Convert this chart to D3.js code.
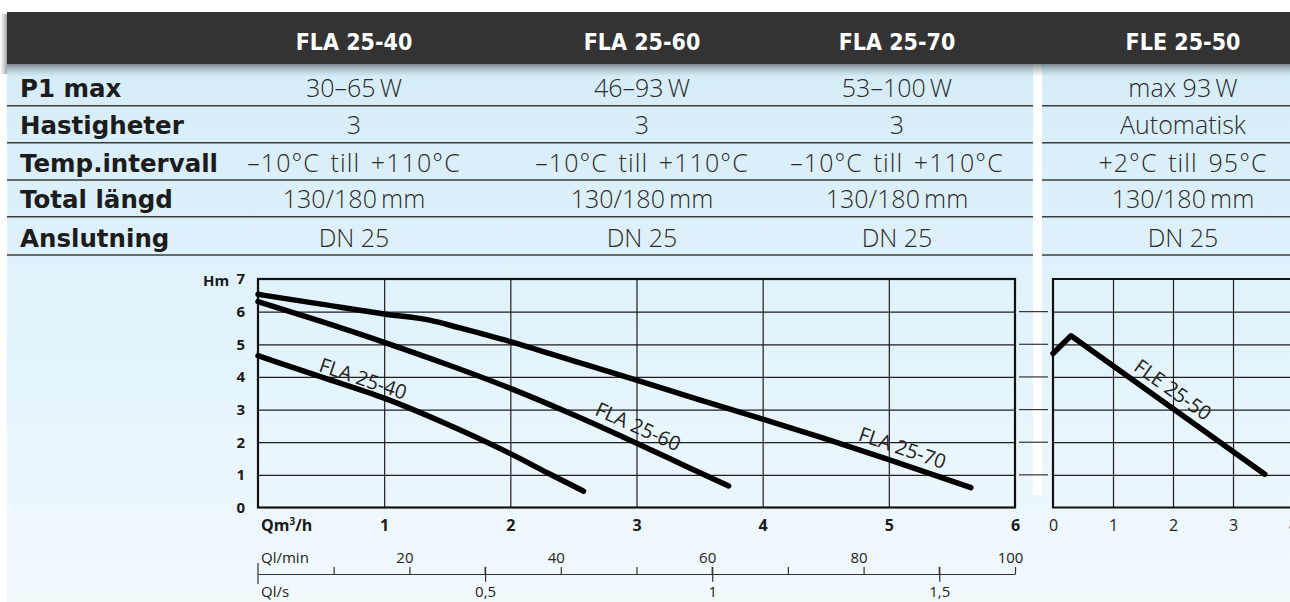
<!DOCTYPE html>
<html><head><meta charset="utf-8">
<script src="https://cdn.jsdelivr.net/npm/d3@7"></script>
<style>
body{margin:0;background:#fff;overflow:hidden}
text{font-family:'Open Sans',sans-serif}
</style>
</head><body><script>
// ---------- data ----------
const models = ["FLA 25-40", "FLA 25-60", "FLA 25-70", "FLE 25-50"];
const rowLabels = ["P1 max", "Hastigheter", "Temp.intervall", "Total längd", "Anslutning"];
const p1Max = ["30–65\u2009W", "46–93\u2009W", "53–100\u2009W", "max 93\u2009W"];
const speeds = ["3", "3", "3", "Automatisk"];
const tempRange = ["–10°C till +110°C", "–10°C till +110°C", "–10°C till +110°C", "+2°C till 95°C"];
const totalLength = ["130/180\u2009mm", "130/180\u2009mm", "130/180\u2009mm", "130/180\u2009mm"];
const connection = ["DN 25", "DN 25", "DN 25", "DN 25"];

const hTicks = [0, 1, 2, 3, 4, 5, 6, 7];
const qTicks = [1, 2, 3, 4, 5, 6];
const qTicksFle = [0, 1, 2, 3, 4];
const lminTicks = [10, 20, 30, 40, 50, 60, 70, 80, 90, 100];
const lminLabels = [20, 40, 60, 80, 100];
const lsTicks = [0.5, 1, 1.5];

// pump curves: flow Q (m3/h) -> head H (m)
const fla2540Q = [0, 0.5, 1, 1.5, 2, 2.3, 2.58];
const fla2540H = [4.65, 4.0, 3.35, 2.55, 1.65, 1.05, 0.5];
const fla2560Q = [0, 0.5, 1, 1.5, 2, 2.5, 3, 3.4, 3.73];
const fla2560H = [6.31, 5.70, 5.06, 4.38, 3.65, 2.84, 1.97, 1.25, 0.66];
const fla2570Q = [0, 0.5, 1, 1.36, 1.6, 2, 2.5, 3, 3.5, 4, 4.5, 5, 5.65];
const fla2570H = [6.53, 6.23, 5.93, 5.74, 5.5, 5.08, 4.49, 3.9, 3.3, 2.71, 2.1, 1.47, 0.61];
const fle2550Q = [0, 0.3, 3.53];
const fle2550H = [4.72, 5.26, 1.02];

// curve label anchor points (Q, H)
const curveLabelQ = [0.815, 2.99, 5.09, 1.93];
const curveLabelH = [3.74, 2.28, 1.62, 3.43];

// ---------- drawing ----------
const svg = d3.select("body").append("svg").attr("width", 1290).attr("height", 602);
const defs = svg.append("defs");
const bg = defs.append("linearGradient").attr("id", "bg").attr("x1", 0).attr("y1", 0).attr("x2", 0).attr("y2", 1);
bg.append("stop").attr("offset", "0%").attr("stop-color", "#d5edf9");
bg.append("stop").attr("offset", "100%").attr("stop-color", "#f1f9fd");
const sh = defs.append("linearGradient").attr("id", "sh").attr("x1", 0).attr("y1", 0).attr("x2", 0).attr("y2", 1);
sh.append("stop").attr("offset", "0%").attr("stop-color", "#5c6468").attr("stop-opacity", 0.75);
sh.append("stop").attr("offset", "100%").attr("stop-color", "#9fb4bf").attr("stop-opacity", 0);
const shL = defs.append("linearGradient").attr("id", "shL").attr("x1", 0).attr("y1", 0).attr("x2", 1).attr("y2", 0);
shL.append("stop").attr("offset", "0%").attr("stop-color", "#888").attr("stop-opacity", 0);
shL.append("stop").attr("offset", "100%").attr("stop-color", "#666").attr("stop-opacity", 0.6);

// background panels
svg.append("rect").attr("x", 7).attr("y", 64).attr("width", 1283).attr("height", 538).attr("fill", "url(#bg)");
svg.append("rect").attr("x", 1033).attr("y", 64).attr("width", 9).attr("height", 431).attr("fill", "#fff");
svg.append("rect").attr("x", 0).attr("y", 14).attr("width", 7).attr("height", 60).attr("fill", "url(#shL)");
svg.append("rect").attr("x", 7).attr("y", 64).attr("width", 1283).attr("height", 13).attr("fill", "url(#sh)");
svg.append("rect").attr("x", 7).attr("y", 12).attr("width", 1283).attr("height", 52).attr("fill", "#333333");

// table
const colX = [354, 642, 897, 1183];
svg.append("g").selectAll("text").data(models).join("text")
  .attr("x", (d, i) => colX[i]).attr("y", 50)
  .attr("text-anchor", "middle").attr("fill", "#fff")
  .style("font-family", "'DejaVu Sans Condensed','DejaVu Sans',sans-serif")
  .style("font-stretch", "condensed").style("font-weight", 700).style("font-size", "23px")
  .text(d => d);

const rowsData = [p1Max, speeds, tempRange, totalLength, connection];
const rowBottoms = [105.7, 142.7, 180, 216.7, 255];
const tbl = svg.append("g");
rowLabels.forEach((lab, r) => {
  const yb = rowBottoms[r];
  tbl.append("text").attr("x", 20).attr("y", yb - 8.5).attr("fill", "#1c1c1c")
    .style("font-family", "'DejaVu Sans',sans-serif")
    .style("font-weight", 700).style("font-size", "24.5px").text(lab);
  tbl.selectAll(null).data(rowsData[r]).join("text")
    .attr("x", (d, i) => colX[i]).attr("y", yb - 8.5).attr("text-anchor", "middle")
    .attr("fill", "#2a2a2a").style("font-weight", 300).style("font-size", "25px")
    .style("letter-spacing", r === 2 ? "1.1px" : null)
    .style("word-spacing", r === 2 ? "3px" : null)
    .text(d => d);
  tbl.append("line").attr("x1", 7).attr("x2", 1033).attr("y1", yb).attr("y2", yb)
    .attr("stroke", "#3c3c3c").attr("stroke-width", 1.5);
  tbl.append("line").attr("x1", 1042).attr("x2", 1290).attr("y1", yb).attr("y2", yb)
    .attr("stroke", "#3c3c3c").attr("stroke-width", 1.5);
});

// scales
const x = d3.scaleLinear().domain([0, 6]).range([258, 1015]);
const y = d3.scaleLinear().domain([0, 7]).range([507.5, 279]);
const xR = d3.scaleLinear().domain([0, 4]).range([1053, 1293]);
const xLmin = d3.scaleLinear().domain([0, 100]).range(x.range());
const xLs = d3.scaleLinear().domain([0, 100 / 60]).range(x.range());
const gridColor = "#1e1e1e";
const fInt = d3.format("d");

// left chart grid
const gL = svg.append("g");
gL.append("g").attr("transform", `translate(0,${y(0)})`)
  .call(d3.axisBottom(x).tickValues([1, 2, 3, 4, 5]).tickSize(-(y(0) - y(7))).tickFormat(""))
  .call(g => g.select(".domain").remove())
  .call(g => g.selectAll("line").attr("stroke", gridColor).attr("stroke-width", 1.2));
gL.append("g").attr("transform", `translate(${x(0)},0)`)
  .call(d3.axisLeft(y).tickValues([1, 2, 3, 4, 5, 6]).tickSize(-(x(6) - x(0))).tickFormat(""))
  .call(g => g.select(".domain").remove())
  .call(g => g.selectAll("line").attr("stroke", gridColor).attr("stroke-width", 1.2));
gL.append("rect").attr("x", x(0)).attr("y", y(7)).attr("width", x(6) - x(0)).attr("height", y(0) - y(7))
  .attr("fill", "none").attr("stroke", "#111").attr("stroke-width", 2.2);

// extension lines between panels
svg.append("g").selectAll("line").data([1, 2, 3, 4, 5, 6]).join("line")
  .attr("x1", 1019).attr("x2", 1048).attr("y1", d => y(d)).attr("y2", d => y(d))
  .attr("stroke", "#333").attr("stroke-width", 1.2);

// y labels
svg.append("g").attr("transform", `translate(${x(0)},0)`)
  .call(d3.axisLeft(y).tickValues(hTicks).tickSize(0).tickPadding(13).tickFormat(fInt))
  .call(g => g.select(".domain").remove())
  .call(g => g.selectAll("text").attr("fill", "#1a1a1a").style("font-family", "'Open Sans',sans-serif")
    .style("font-weight", 700).style("font-size", "15px"));
svg.append("text").attr("x", 203).attr("y", 285.7).attr("fill", "#1a1a1a")
  .style("font-weight", 700).style("font-size", "15px").text("Hm");

// x labels (m3/h)
svg.append("g").attr("transform", `translate(0,${y(0)})`)
  .call(d3.axisBottom(x).tickValues(qTicks).tickSize(0).tickPadding(12).tickFormat(fInt))
  .call(g => g.select(".domain").remove())
  .call(g => g.selectAll("text").attr("fill", "#1a1a1a").style("font-family", "'Open Sans',sans-serif")
    .style("font-weight", 700).style("font-size", "16px"));
const qlab = svg.append("text").attr("x", 261).attr("y", 531).attr("fill", "#1a1a1a")
  .style("font-weight", 700).style("font-size", "16px");
qlab.append("tspan").text("Qm");
qlab.append("tspan").attr("dy", -6).style("font-size", "10px").text("3");
qlab.append("tspan").attr("dy", 6).text("/h");

// l/min and l/s axes
const axY = 574;
const fmtComma = d3.formatLocale({decimal: ",", thousands: ".", grouping: [3], currency: ["", ""]}).format("~g");
svg.append("g").attr("transform", `translate(0,${axY})`)
  .call(d3.axisTop(xLmin).tickValues(lminTicks).tickSize(7).tickPadding(4.3).tickSizeOuter(0)
    .tickFormat(d => lminLabels.includes(d) ? d : ""))
  .call(g => g.select(".domain").remove())
  .call(g => g.selectAll("line").attr("stroke", "#333").attr("stroke-width", 1.2))
  .call(g => g.selectAll("text").attr("dx", -5).attr("fill", "#222")
    .style("font-family", "'Open Sans',sans-serif").style("font-size", "15px"));
svg.append("g").attr("transform", `translate(0,${axY})`)
  .call(d3.axisBottom(xLs).tickValues(lsTicks).tickSize(7.7).tickPadding(4.6).tickSizeOuter(0).tickFormat(fmtComma))
  .call(g => g.select(".domain").attr("stroke", "#333").attr("stroke-width", 1.2))
  .call(g => g.selectAll("line").attr("stroke", "#333").attr("stroke-width", 1.2))
  .call(g => g.selectAll("text").attr("fill", "#222")
    .style("font-family", "'Open Sans',sans-serif").style("font-size", "15px"));
svg.append("g").selectAll("line").data(lsTicks).join("line")
  .attr("x1", d => xLs(d)).attr("x2", d => xLs(d)).attr("y1", axY - 7.3).attr("y2", axY)
  .attr("stroke", "#333").attr("stroke-width", 1.2);
svg.append("line").attr("x1", xLs(0)).attr("x2", xLs(0)).attr("y1", axY - 11).attr("y2", axY + 10)
  .attr("stroke", "#333").attr("stroke-width", 1.2);
svg.append("text").attr("x", 261).attr("y", 562.7).attr("fill", "#222").style("font-size", "15px").text("Ql/min");
svg.append("text").attr("x", 261).attr("y", 597).attr("fill", "#222").style("font-size", "15px").text("Ql/s");

// right chart
const gR = svg.append("g");
gR.append("g").attr("transform", `translate(0,${y(0)})`)
  .call(d3.axisBottom(xR).tickValues([1, 2, 3, 4]).tickSize(-(y(0) - y(7))).tickFormat(""))
  .call(g => g.select(".domain").remove())
  .call(g => g.selectAll("line").attr("stroke", gridColor).attr("stroke-width", 1.2));
gR.append("g").attr("transform", `translate(${xR(0)},0)`)
  .call(d3.axisLeft(y).tickValues([1, 2, 3, 4, 5, 6]).tickSize(-(1290 - xR(0))).tickFormat(""))
  .call(g => g.select(".domain").remove())
  .call(g => g.selectAll("line").attr("stroke", gridColor).attr("stroke-width", 1.2));
gR.append("path").attr("d", `M1291,${y(7)}H${xR(0)}V${y(0)}H1291`)
  .attr("fill", "none").attr("stroke", "#111").attr("stroke-width", 2.2);
gR.append("g").attr("transform", `translate(0,${y(0)})`)
  .call(d3.axisBottom(xR).tickValues(qTicksFle).tickSize(0).tickPadding(12).tickFormat(fInt))
  .call(g => g.select(".domain").remove())
  .call(g => g.selectAll("text").attr("fill", "#222").style("font-family", "'Open Sans',sans-serif")
    .style("font-size", "16px"));

// curves
const curves = [
  {q: fla2540Q, h: fla2540H, sx: x, curve: d3.curveMonotoneX},
  {q: fla2560Q, h: fla2560H, sx: x, curve: d3.curveMonotoneX},
  {q: fla2570Q, h: fla2570H, sx: x, curve: d3.curveMonotoneX},
  {q: fle2550Q, h: fle2550H, sx: xR, curve: d3.curveLinear}
];
curves.forEach(c => {
  const pts = c.q.map((v, i) => [v, c.h[i]]);
  svg.append("path").datum(pts)
    .attr("d", d3.line().x(d => c.sx(d[0])).y(d => y(d[1])).curve(c.curve))
    .attr("fill", "none").attr("stroke", "#000").attr("stroke-width", 5.5)
    .attr("stroke-linecap", "round").attr("stroke-linejoin", "round");
});

// curve labels, rotated to local slope
function slopeAngle(c, qv) {
  let i = 0;
  while (i < c.q.length - 2 && c.q[i + 1] < qv) i++;
  const dx = c.sx(c.q[i + 1]) - c.sx(c.q[i]);
  const dy = y(c.h[i + 1]) - y(c.h[i]);
  return Math.atan2(dy, dx) * 180 / Math.PI;
}
svg.append("g").selectAll("text").data(models).join("text")
  .attr("transform", (d, i) => {
    const c = curves[i];
    const px = c.sx(curveLabelQ[i]), py = y(curveLabelH[i]);
    return `translate(${px},${py}) rotate(${slopeAngle(c, curveLabelQ[i])})`;
  })
  .attr("text-anchor", "middle").attr("fill", "#222")
  .style("font-size", "20px").text(d => d);
</script></body></html>
